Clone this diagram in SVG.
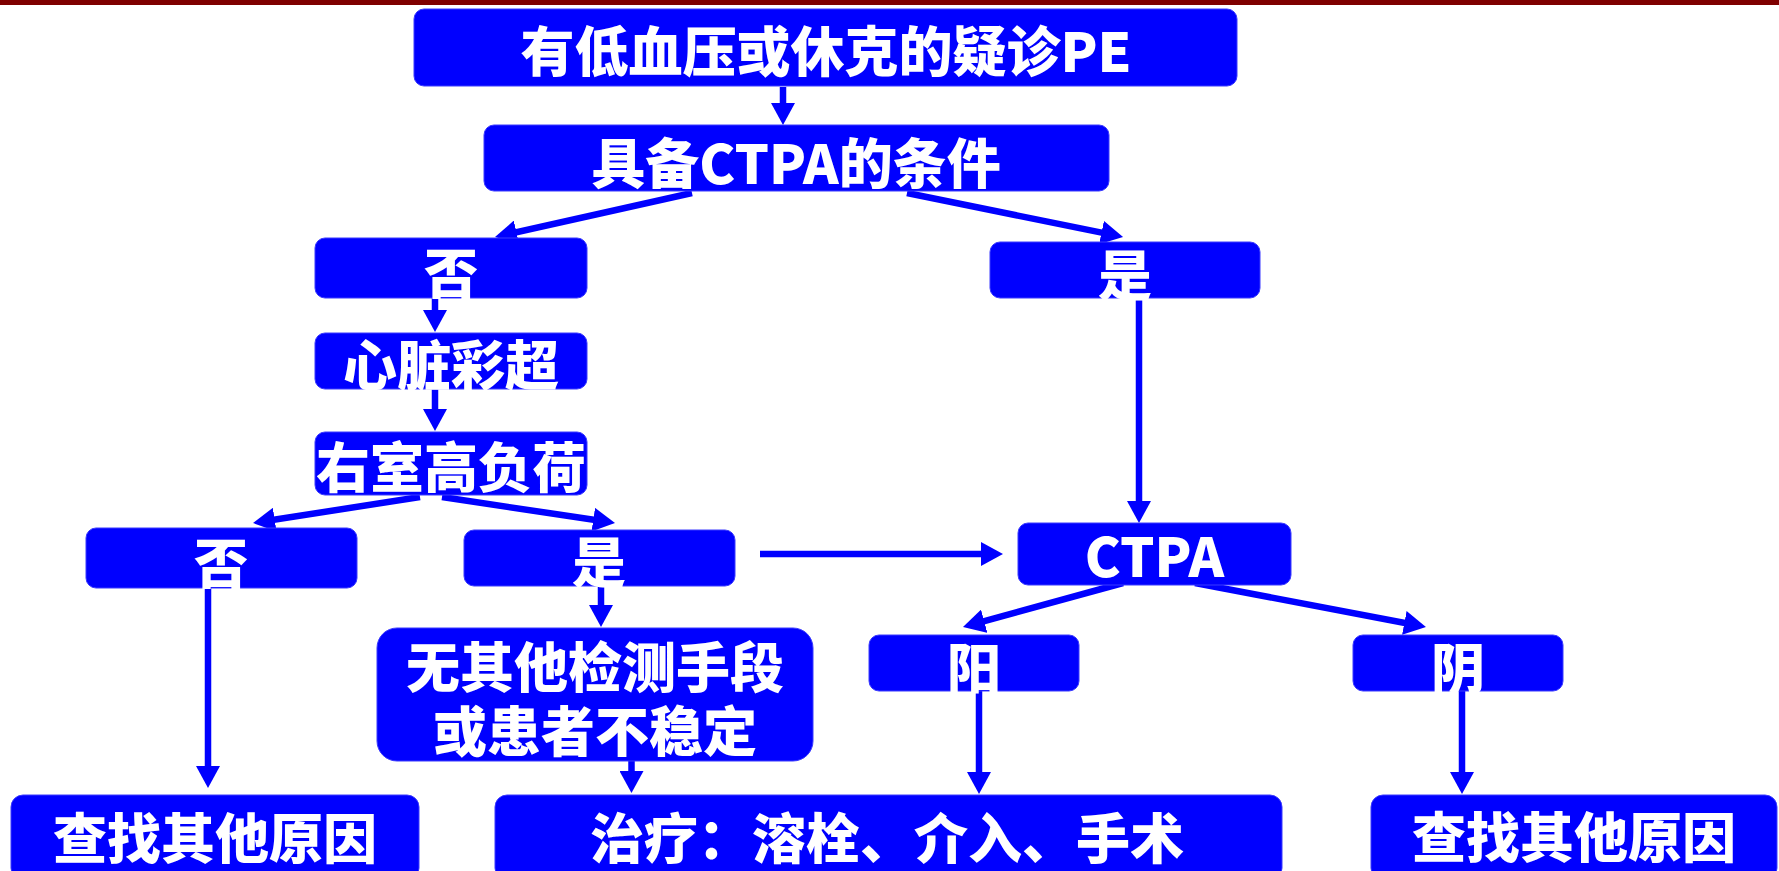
<svg xmlns="http://www.w3.org/2000/svg" width="1779" height="871" viewBox="0 0 1779 871">
<defs>
<style>
.box{fill:#0000FF;stroke:#3A3AFF;stroke-width:1}
.t{fill:#FFFFFF;font-family:"Noto Sans CJK SC","Noto Sans",sans-serif;font-weight:900;font-size:54px;text-anchor:middle;dominant-baseline:central}
.c{fill:none;stroke:#0000FF;stroke-width:6.5;marker-end:url(#ah)}
</style>
<marker id="ah" markerUnits="userSpaceOnUse" viewBox="0 0 22 24" markerWidth="22" markerHeight="24" refX="14" refY="12" orient="auto">
<path d="M0,0 L22,12 L0,24 z" fill="#0000FF"/>
</marker>
</defs>
<rect x="0" y="0" width="1779" height="871" fill="#FFFFFF"/>
<rect x="0" y="0" width="1779" height="5" fill="#7F0000"/>
<g id="connectors">
<path class="c" d="M783,87 L783,117"/>
<path class="c" d="M692,193 L502.8,235.3"/>
<path class="c" d="M907,193 L1115.2,235.4"/>
<path class="c" d="M435,298 L435,324"/>
<path class="c" d="M435,389 L435,423"/>
<path class="c" d="M420,497 L260.9,521.8"/>
<path class="c" d="M442,497 L607.1,521.8"/>
<path class="c" d="M760,554 L995,554"/>
<path class="c" d="M1139,298 L1139,515"/>
<path class="c" d="M1123,583 L970.7,624.9"/>
<path class="c" d="M1195,583 L1418.1,625.5"/>
<path class="c" d="M208,588 L208,780"/>
<path class="c" d="M601,586 L601,619"/>
<path class="c" d="M631.5,761 L631.5,785"/>
<path class="c" d="M979,691 L979,786"/>
<path class="c" d="M1462,691 L1462,786"/>
</g>
<g id="n1"><rect class="box" x="414" y="9" width="823" height="77" rx="10"/><text class="t" x="826" y="48">有低血压或休克的疑诊PE</text></g>
<g id="n2"><rect class="box" x="484" y="125" width="625" height="66" rx="10"/><text class="t" x="796" y="160">具备CTPA的条件</text></g>
<g id="no1"><rect class="box" x="315" y="238" width="272" height="60" rx="10"/><text class="t" x="451" y="270">否</text></g>
<g id="yes1"><rect class="box" x="990" y="242" width="270" height="56" rx="10"/><text class="t" x="1125" y="272">是</text></g>
<g id="echo"><rect class="box" x="315" y="333" width="272" height="56" rx="10"/><text class="t" x="451" y="362">心脏彩超</text></g>
<g id="rv"><rect class="box" x="315" y="432" width="272" height="63" rx="10"/><text class="t" x="451" y="464">右室高负荷</text></g>
<g id="no2"><rect class="box" x="86" y="528" width="271" height="60" rx="10"/><text class="t" x="221" y="560">否</text></g>
<g id="yes2"><rect class="box" x="464" y="530" width="271" height="56" rx="10"/><text class="t" x="599" y="559">是</text></g>
<g id="ctpa"><rect class="box" x="1018" y="523" width="273" height="62" rx="10"/><text class="t" x="1154.5" y="553">CTPA</text></g>
<g id="pos"><rect class="box" x="869" y="635" width="210" height="56" rx="10"/><text class="t" x="974" y="665">阳</text></g>
<g id="neg"><rect class="box" x="1353" y="635" width="210" height="56" rx="10"/><text class="t" x="1458" y="665">阴</text></g>
<g id="none"><rect class="box" x="377" y="628" width="436" height="133" rx="20"/><text class="t"><tspan x="595" y="664">无其他检测手段</tspan><tspan x="595" y="728">或患者不稳定</tspan></text></g>
<g id="find1"><rect class="box" x="11" y="795" width="408" height="85" rx="12"/><text class="t" x="215" y="835">查找其他原因</text></g>
<g id="treat"><rect class="box" x="495" y="795" width="787" height="85" rx="12"/><text class="t" x="887" y="835">治疗：溶栓、介入、手术</text></g>
<g id="find2"><rect class="box" x="1371" y="795" width="406" height="85" rx="12"/><text class="t" x="1574" y="834">查找其他原因</text></g>
</svg>
